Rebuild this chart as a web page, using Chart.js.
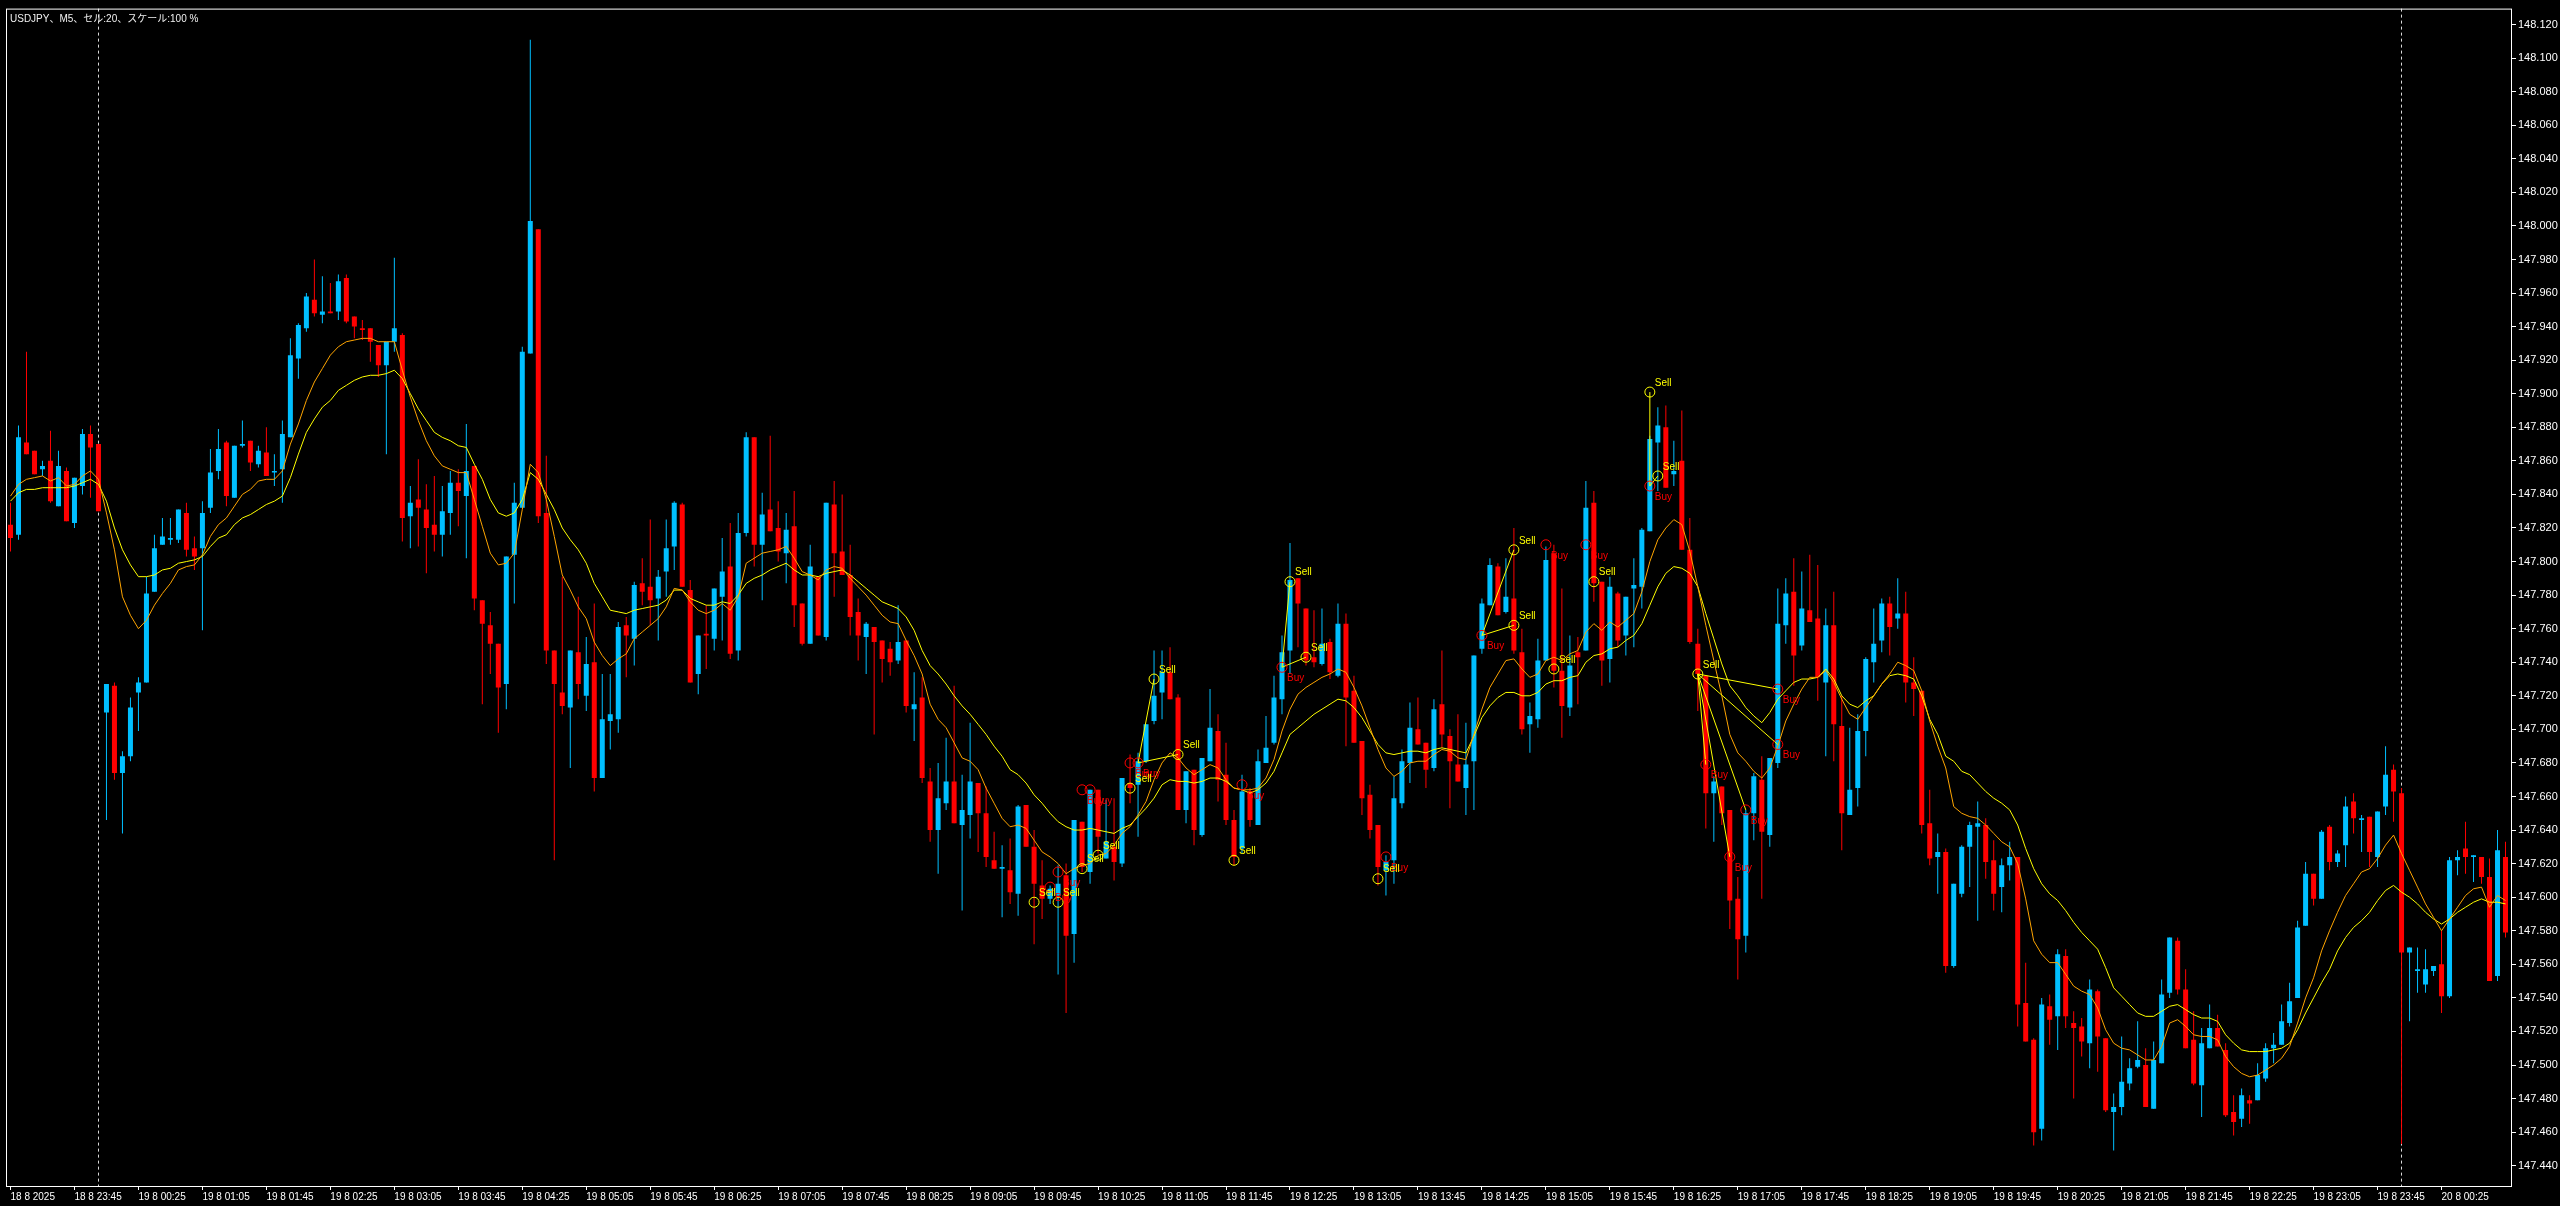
<!DOCTYPE html>
<html lang="ja">
<head>
<meta charset="UTF-8">
<title>USDJPY M5</title>
<style>
  html, body { margin: 0; padding: 0; background: #000; overflow: hidden; }
  canvas { display: block; }
</style>
</head>
<body>
<canvas id="chart" width="2560" height="1206"></canvas>
<script src="https://cdn.jsdelivr.net/npm/chart.js@4.4.1/dist/chart.umd.min.js"></script>
<script>
// USDJPY M5, bars from 18.8 23:05 to 20.8 01:05
const open = [
  147.822, 147.816, 147.871, 147.866, 147.855, 147.860, 147.833, 147.854, 147.823, 147.845,
  147.876, 147.870, 147.710, 147.726, 147.674, 147.684, 147.722, 147.728, 147.782, 147.810,
  147.813, 147.813, 147.829, 147.808, 147.808, 147.832, 147.854, 147.871, 147.838, 147.869,
  147.872, 147.858, 147.865, 147.853, 147.855, 147.874, 147.921, 147.939, 147.956, 147.947,
  147.949, 147.949, 147.969, 147.946, 147.939, 147.939, 147.929, 147.917, 147.931, 147.935,
  147.827, 147.837, 147.831, 147.822, 147.816, 147.829, 147.847, 147.839, 147.857, 147.777,
  147.762, 147.751, 147.727, 147.804, 147.832, 147.924, 147.998, 147.829, 147.747, 147.722,
  147.713, 147.746, 147.720, 147.740, 147.671, 147.705, 147.706, 147.762, 147.754, 147.787,
  147.785, 147.778, 147.794, 147.809, 147.834, 147.783, 147.733, 147.757, 147.754, 147.779,
  147.797, 147.747, 147.817, 147.874, 147.810, 147.831, 147.820, 147.805, 147.821, 147.775,
  147.751, 147.791, 147.755, 147.834, 147.806, 147.792, 147.770, 147.755, 147.761, 147.753,
  147.748, 147.741, 147.753, 147.712, 147.719, 147.669, 147.640, 147.656, 147.669, 147.643,
  147.649, 147.668, 147.650, 147.622, 147.617, 147.616, 147.602, 147.655, 147.630, 147.607,
  147.599, 147.601, 147.613, 147.578, 147.645, 147.615, 147.664, 147.623, 147.630, 147.620,
  147.668, 147.667, 147.681, 147.705, 147.722, 147.734, 147.719, 147.652, 147.676, 147.637,
  147.681, 147.699, 147.673, 147.646, 147.629, 147.663, 147.643, 147.680, 147.692, 147.718,
  147.747, 147.790, 147.772, 147.743, 147.739, 147.752, 147.732, 147.763, 147.723, 147.693,
  147.661, 147.643, 147.616, 147.622, 147.656, 147.680, 147.700, 147.692, 147.677, 147.715,
  147.696, 147.679, 147.665, 147.681, 147.748, 147.774, 147.797, 147.770, 147.778, 147.746,
  147.703, 147.706, 147.741, 147.805, 147.735, 147.713, 147.746, 147.747, 147.835, 147.788,
  147.742, 147.781, 147.756, 147.784, 147.785, 147.818, 147.871, 147.880, 147.852, 147.860,
  147.807, 147.751, 147.732, 147.662, 147.666, 147.652, 147.599, 147.577, 147.650, 147.670,
  147.637, 147.680, 147.762, 147.782, 147.750, 147.771, 147.766, 147.728, 147.762, 147.702,
  147.649, 147.665, 147.699, 147.740, 147.753, 147.775, 147.766, 147.769, 147.728, 147.723,
  147.644, 147.624, 147.627, 147.559, 147.602, 147.630, 147.642, 147.643, 147.622, 147.606,
  147.619, 147.624, 147.537, 147.515, 147.462, 147.535, 147.529, 147.565, 147.525, 147.523,
  147.513, 147.544, 147.516, 147.472, 147.475, 147.489, 147.499, 147.500, 147.474, 147.501,
  147.543, 147.574, 147.545, 147.515, 147.488, 147.510, 147.522, 147.509, 147.472, 147.468,
  147.479, 147.479, 147.492, 147.510, 147.512, 147.525, 147.540, 147.583, 147.614, 147.599,
  147.642, 147.621, 147.631, 147.657, 147.646, 147.648, 147.624, 147.654, 147.676, 147.662,
  147.567, 147.556, 147.548, 147.556, 147.560, 147.541, 147.622, 147.629, 147.624, 147.624,
  147.612, 147.553, 147.624
];
const high = [
  147.835, 147.881, 147.925, 147.866, 147.860, 147.878, 147.866, 147.856, 147.850, 147.879,
  147.881, 147.870, 147.727, 147.728, 147.687, 147.719, 147.731, 147.791, 147.816, 147.826,
  147.826, 147.831, 147.835, 147.815, 147.836, 147.867, 147.879, 147.872, 147.869, 147.884,
  147.872, 147.869, 147.880, 147.864, 147.884, 147.933, 147.942, 147.960, 147.980, 147.970,
  147.966, 147.971, 147.971, 147.946, 147.944, 147.939, 147.929, 147.931, 147.981, 147.936,
  147.845, 147.861, 147.846, 147.851, 147.845, 147.854, 147.855, 147.882, 147.857, 147.777,
  147.770, 147.751, 147.803, 147.847, 147.928, 148.111, 147.998, 147.863, 147.747, 147.791,
  147.747, 147.779, 147.755, 147.775, 147.733, 147.733, 147.764, 147.767, 147.788, 147.802,
  147.825, 147.795, 147.825, 147.836, 147.835, 147.789, 147.756, 147.774, 147.784, 147.814,
  147.823, 147.829, 147.877, 147.874, 147.841, 147.875, 147.836, 147.829, 147.842, 147.775,
  147.810, 147.791, 147.835, 147.848, 147.840, 147.810, 147.778, 147.764, 147.761, 147.753,
  147.752, 147.774, 147.753, 147.734, 147.731, 147.677, 147.680, 147.695, 147.726, 147.673,
  147.704, 147.668, 147.666, 147.639, 147.631, 147.635, 147.655, 147.655, 147.640, 147.622,
  147.607, 147.619, 147.620, 147.646, 147.645, 147.664, 147.664, 147.658, 147.659, 147.671,
  147.685, 147.686, 147.703, 147.747, 147.747, 147.749, 147.721, 147.675, 147.676, 147.683,
  147.724, 147.709, 147.692, 147.652, 147.673, 147.665, 147.688, 147.708, 147.732, 147.756,
  147.811, 147.790, 147.772, 147.771, 147.772, 147.754, 147.775, 147.769, 147.732, 147.693,
  147.667, 147.643, 147.625, 147.672, 147.688, 147.716, 147.719, 147.692, 147.718, 147.747,
  147.700, 147.709, 147.704, 147.744, 147.778, 147.802, 147.799, 147.802, 147.820, 147.760,
  147.716, 147.754, 147.809, 147.810, 147.784, 147.756, 147.755, 147.848, 147.842, 147.788,
  147.791, 147.782, 147.779, 147.802, 147.820, 147.875, 147.892, 147.893, 147.872, 147.890,
  147.826, 147.760, 147.732, 147.672, 147.666, 147.652, 147.612, 147.652, 147.674, 147.684,
  147.683, 147.784, 147.790, 147.802, 147.794, 147.804, 147.798, 147.772, 147.782, 147.720,
  147.701, 147.709, 147.743, 147.772, 147.778, 147.779, 147.790, 147.782, 147.743, 147.723,
  147.664, 147.638, 147.629, 147.608, 147.631, 147.645, 147.657, 147.647, 147.634, 147.623,
  147.633, 147.624, 147.561, 147.516, 147.540, 147.542, 147.569, 147.569, 147.532, 147.528,
  147.551, 147.545, 147.516, 147.483, 147.517, 147.504, 147.526, 147.510, 147.514, 147.551,
  147.576, 147.576, 147.557, 147.532, 147.522, 147.536, 147.530, 147.513, 147.482, 147.486,
  147.482, 147.501, 147.513, 147.519, 147.536, 147.549, 147.586, 147.621, 147.614, 147.640,
  147.643, 147.628, 147.660, 147.662, 147.649, 147.648, 147.651, 147.690, 147.679, 147.665,
  147.570, 147.570, 147.569, 147.559, 147.580, 147.624, 147.628, 147.645, 147.625, 147.624,
  147.623, 147.640, 147.633
];
const low = [
  147.806, 147.813, 147.864, 147.852, 147.851, 147.835, 147.833, 147.824, 147.820, 147.840,
  147.838, 147.830, 147.646, 147.670, 147.638, 147.681, 147.699, 147.728, 147.782, 147.810,
  147.810, 147.811, 147.803, 147.795, 147.759, 147.829, 147.849, 147.833, 147.838, 147.868,
  147.854, 147.856, 147.851, 147.845, 147.835, 147.874, 147.909, 147.937, 147.946, 147.942,
  147.948, 147.944, 147.942, 147.933, 147.932, 147.919, 147.910, 147.864, 147.925, 147.812,
  147.808, 147.809, 147.793, 147.806, 147.803, 147.816, 147.821, 147.802, 147.771, 147.715,
  147.733, 147.698, 147.712, 147.775, 147.832, 147.924, 147.823, 147.739, 147.622, 147.709,
  147.677, 147.718, 147.711, 147.663, 147.671, 147.688, 147.698, 147.731, 147.738, 147.774,
  147.762, 147.753, 147.779, 147.795, 147.785, 147.728, 147.721, 147.736, 147.747, 147.753,
  147.742, 147.741, 147.815, 147.797, 147.777, 147.818, 147.800, 147.787, 147.761, 147.750,
  147.751, 147.756, 147.753, 147.779, 147.792, 147.756, 147.741, 147.733, 147.697, 147.728,
  147.732, 147.739, 147.710, 147.693, 147.668, 147.633, 147.614, 147.652, 147.644, 147.592,
  147.635, 147.627, 147.618, 147.617, 147.588, 147.596, 147.589, 147.630, 147.572, 147.587,
  147.596, 147.554, 147.531, 147.561, 147.615, 147.608, 147.626, 147.623, 147.610, 147.618,
  147.656, 147.636, 147.680, 147.703, 147.706, 147.718, 147.652, 147.644, 147.631, 147.636,
  147.681, 147.657, 147.643, 147.619, 147.626, 147.642, 147.643, 147.680, 147.691, 147.709,
  147.733, 147.749, 147.738, 147.737, 147.738, 147.730, 147.731, 147.690, 147.692, 147.649,
  147.635, 147.607, 147.601, 147.608, 147.653, 147.668, 147.691, 147.665, 147.675, 147.689,
  147.653, 147.669, 147.649, 147.652, 147.745, 147.774, 147.768, 147.769, 147.745, 147.697,
  147.686, 147.701, 147.741, 147.725, 147.695, 147.708, 147.715, 147.747, 147.776, 147.726,
  147.728, 147.749, 147.744, 147.749, 147.772, 147.818, 147.842, 147.844, 147.845, 147.807,
  147.751, 147.711, 147.641, 147.633, 147.643, 147.581, 147.551, 147.567, 147.634, 147.599,
  147.630, 147.677, 147.751, 147.726, 147.747, 147.764, 147.717, 147.684, 147.681, 147.628,
  147.649, 147.654, 147.684, 147.728, 147.746, 147.744, 147.760, 147.716, 147.708, 147.638,
  147.619, 147.602, 147.555, 147.558, 147.600, 147.606, 147.586, 147.611, 147.592, 147.591,
  147.610, 147.523, 147.514, 147.452, 147.455, 147.512, 147.509, 147.522, 147.480, 147.505,
  147.498, 147.496, 147.472, 147.449, 147.470, 147.485, 147.498, 147.475, 147.474, 147.501,
  147.540, 147.542, 147.510, 147.488, 147.469, 147.510, 147.511, 147.469, 147.458, 147.463,
  147.465, 147.479, 147.490, 147.501, 147.512, 147.523, 147.540, 147.583, 147.595, 147.599,
  147.616, 147.618, 147.618, 147.638, 147.627, 147.618, 147.618, 147.649, 147.645, 147.453,
  147.526, 147.543, 147.543, 147.553, 147.531, 147.540, 147.613, 147.614, 147.609, 147.608,
  147.550, 147.550, 147.576
];
const close = [
  147.814, 147.874, 147.864, 147.852, 147.857, 147.836, 147.857, 147.824, 147.850, 147.876,
  147.868, 147.830, 147.727, 147.674, 147.684, 147.713, 147.728, 147.781, 147.808, 147.815,
  147.814, 147.831, 147.807, 147.803, 147.829, 147.853, 147.867, 147.839, 147.869, 147.870,
  147.859, 147.866, 147.851, 147.854, 147.876, 147.923, 147.941, 147.958, 147.948, 147.949,
  147.948, 147.967, 147.943, 147.940, 147.938, 147.931, 147.917, 147.931, 147.939, 147.826,
  147.835, 147.832, 147.820, 147.816, 147.830, 147.847, 147.842, 147.854, 147.778, 147.763,
  147.751, 147.725, 147.803, 147.835, 147.925, 148.003, 147.827, 147.747, 147.727, 147.714,
  147.747, 147.727, 147.739, 147.671, 147.706, 147.709, 147.761, 147.756, 147.786, 147.782,
  147.777, 147.791, 147.808, 147.835, 147.785, 147.728, 147.756, 147.756, 147.784, 147.794,
  147.745, 147.817, 147.874, 147.810, 147.828, 147.818, 147.806, 147.819, 147.774, 147.751,
  147.797, 147.756, 147.835, 147.805, 147.792, 147.767, 147.756, 147.763, 147.752, 147.742,
  147.740, 147.752, 147.714, 147.715, 147.671, 147.640, 147.659, 147.669, 147.644, 147.652,
  147.669, 147.650, 147.624, 147.617, 147.618, 147.603, 147.654, 147.630, 147.608, 147.599,
  147.605, 147.608, 147.577, 147.646, 147.618, 147.664, 147.636, 147.633, 147.621, 147.671,
  147.665, 147.681, 147.703, 147.720, 147.734, 147.718, 147.652, 147.675, 147.640, 147.683,
  147.701, 147.670, 147.646, 147.624, 147.663, 147.646, 147.681, 147.689, 147.719, 147.746,
  147.789, 147.775, 147.741, 147.740, 147.751, 147.734, 147.763, 147.719, 147.692, 147.659,
  147.640, 147.618, 147.621, 147.659, 147.681, 147.701, 147.691, 147.676, 147.712, 147.697,
  147.681, 147.669, 147.679, 147.744, 147.775, 147.798, 147.768, 147.779, 147.747, 147.700,
  147.708, 147.741, 147.801, 147.735, 147.714, 147.738, 147.743, 147.832, 147.787, 147.741,
  147.785, 147.753, 147.779, 147.786, 147.819, 147.873, 147.881, 147.844, 147.854, 147.807,
  147.752, 147.733, 147.662, 147.669, 147.650, 147.598, 147.575, 147.650, 147.672, 147.639,
  147.683, 147.763, 147.781, 147.744, 147.772, 147.764, 147.731, 147.762, 147.703, 147.650,
  147.664, 147.699, 147.742, 147.751, 147.775, 147.761, 147.769, 147.728, 147.724, 147.643,
  147.623, 147.627, 147.559, 147.608, 147.630, 147.643, 147.644, 147.621, 147.602, 147.619,
  147.624, 147.536, 147.514, 147.460, 147.536, 147.527, 147.566, 147.529, 147.522, 147.514,
  147.545, 147.517, 147.473, 147.475, 147.490, 147.498, 147.503, 147.475, 147.503, 147.542,
  147.576, 147.545, 147.510, 147.489, 147.513, 147.522, 147.511, 147.470, 147.466, 147.482,
  147.477, 147.494, 147.510, 147.512, 147.526, 147.538, 147.582, 147.614, 147.599, 147.639,
  147.621, 147.626, 147.654, 147.647, 147.647, 147.627, 147.651, 147.673, 147.663, 147.567,
  147.570, 147.557, 147.557, 147.559, 147.541, 147.622, 147.624, 147.624, 147.625, 147.612,
  147.550, 147.628, 147.579
];

// the two moving average lines (orange = fast, yellow = slow)
const maFast = [
  147.839, 147.846, 147.849, 147.850, 147.851, 147.848, 147.850, 147.845, 147.846, 147.851,
  147.854, 147.849, 147.829, 147.807, 147.779, 147.768, 147.760, 147.765, 147.774, 147.781,
  147.787, 147.795, 147.797, 147.798, 147.804, 147.815, 147.822, 147.826, 147.833, 147.840,
  147.843, 147.848, 147.849, 147.849, 147.854, 147.870, 147.882, 147.896, 147.907, 147.915,
  147.923, 147.928, 147.931, 147.932, 147.933, 147.933, 147.931, 147.931, 147.931, 147.914,
  147.898, 147.884, 147.872, 147.863, 147.857, 147.855, 147.853, 147.853, 147.837, 147.821,
  147.805, 147.798, 147.799, 147.805, 147.831, 147.858, 147.853, 147.837, 147.815, 147.792,
  147.783, 147.773, 147.766, 147.752, 147.744, 147.738, 147.742, 147.745, 147.754, 147.758,
  147.762, 147.766, 147.773, 147.784, 147.783, 147.776, 147.771, 147.769, 147.771, 147.775,
  147.771, 147.779, 147.799, 147.802, 147.805, 147.806, 147.807, 147.809, 147.802, 147.794,
  147.792, 147.789, 147.795, 147.797, 147.796, 147.790, 147.785, 147.780, 147.774, 147.768,
  147.764, 147.763, 147.753, 147.744, 147.733, 147.715, 147.706, 147.701, 147.692, 147.683,
  147.681, 147.676, 147.665, 147.656, 147.647, 147.642, 147.643, 147.641, 147.634, 147.627,
  147.624, 147.620, 147.614, 147.617, 147.619, 147.620, 147.625, 147.626, 147.631, 147.638,
  147.642, 147.649, 147.657, 147.670, 147.680, 147.686, 147.683, 147.677, 147.673, 147.676,
  147.679, 147.677, 147.670, 147.665, 147.664, 147.664, 147.665, 147.671, 147.682, 147.699,
  147.712, 147.721, 147.725, 147.728, 147.731, 147.733, 147.736, 147.734, 147.725, 147.714,
  147.701, 147.688, 147.677, 147.672, 147.675, 147.680, 147.681, 147.681, 147.685, 147.688,
  147.687, 147.683, 147.682, 147.697, 147.712, 147.725, 147.733, 147.741, 147.742, 147.736,
  147.731, 147.733, 147.741, 147.743, 147.741, 147.745, 147.747, 147.758, 147.763, 147.759,
  147.764, 147.761, 147.765, 147.769, 147.782, 147.800, 147.813, 147.820, 147.825, 147.822,
  147.806, 147.785, 147.762, 147.741, 147.720, 147.697, 147.686, 147.681, 147.675, 147.671,
  147.677, 147.690, 147.705, 147.715, 147.724, 147.731, 147.731, 147.735, 147.728, 147.718,
  147.709, 147.706, 147.713, 147.720, 147.727, 147.733, 147.740, 147.738, 147.735, 147.723,
  147.705, 147.690, 147.677, 147.654, 147.650, 147.648, 147.647, 147.643, 147.638, 147.633,
  147.630, 147.620, 147.599, 147.574, 147.566, 147.561, 147.561, 147.554, 147.547, 147.544,
  147.542, 147.534, 147.521, 147.513, 147.510, 147.509, 147.506, 147.503, 147.503, 147.511,
  147.525, 147.527, 147.523, 147.518, 147.517, 147.517, 147.515, 147.505, 147.499, 147.495,
  147.493, 147.494, 147.497, 147.500, 147.504, 147.511, 147.525, 147.540, 147.552, 147.568,
  147.580, 147.591, 147.601, 147.608, 147.615, 147.617, 147.623, 147.631, 147.637, 147.626,
  147.616, 147.606, 147.596, 147.588, 147.580, 147.587, 147.594, 147.601, 147.605, 147.606,
  147.594, 147.601, 147.598
];
const maSlow = [
  147.836, 147.841, 147.843, 147.843, 147.844, 147.844, 147.844, 147.844, 147.845, 147.847,
  147.849, 147.846, 147.836, 147.820, 147.807, 147.798, 147.791, 147.791, 147.792, 147.795,
  147.796, 147.799, 147.800, 147.801, 147.803, 147.809, 147.814, 147.816, 147.822, 147.826,
  147.828, 147.831, 147.834, 147.836, 147.839, 147.850, 147.864, 147.877, 147.885, 147.892,
  147.896, 147.902, 147.905, 147.908, 147.910, 147.911, 147.911, 147.912, 147.914, 147.909,
  147.900, 147.891, 147.884, 147.877, 147.874, 147.872, 147.869, 147.868, 147.858, 147.849,
  147.837, 147.829, 147.827, 147.829, 147.837, 147.853, 147.849, 147.840, 147.831, 147.820,
  147.813, 147.807, 147.799, 147.787, 147.779, 147.771, 147.770, 147.769, 147.771, 147.772,
  147.773, 147.774, 147.777, 147.783, 147.783, 147.778, 147.776, 147.774, 147.774, 147.776,
  147.775, 147.780, 147.787, 147.790, 147.792, 147.795, 147.797, 147.799, 147.795, 147.792,
  147.792, 147.791, 147.793, 147.794, 147.795, 147.792, 147.788, 147.784, 147.780, 147.776,
  147.774, 147.772, 147.767, 147.759, 147.747, 147.738, 147.733, 147.727, 147.720, 147.714,
  147.709, 147.703, 147.697, 147.690, 147.684, 147.676, 147.673, 147.668, 147.661, 147.656,
  147.650, 147.645, 147.642, 147.640, 147.640, 147.641, 147.640, 147.639, 147.638, 147.641,
  147.643, 147.648, 147.653, 147.659, 147.667, 147.670, 147.669, 147.669, 147.668, 147.669,
  147.671, 147.671, 147.669, 147.665, 147.664, 147.662, 147.664, 147.668, 147.675, 147.686,
  147.697, 147.701, 147.705, 147.709, 147.712, 147.715, 147.718, 147.717, 147.713, 147.707,
  147.699, 147.691, 147.686, 147.685, 147.686, 147.687, 147.687, 147.686, 147.688, 147.689,
  147.688, 147.687, 147.686, 147.696, 147.707, 147.714, 147.719, 147.722, 147.722, 147.720,
  147.720, 147.722, 147.727, 147.729, 147.729, 147.731, 147.732, 147.740, 147.744, 147.745,
  147.748, 147.749, 147.753, 147.756, 147.763, 147.774, 147.785, 147.793, 147.797, 147.796,
  147.793, 147.785, 147.769, 147.754, 147.739, 147.726, 147.720, 147.713, 147.708, 147.704,
  147.710, 147.718, 147.723, 147.728, 147.730, 147.730, 147.731, 147.736, 147.730, 147.720,
  147.715, 147.713, 147.717, 147.720, 147.727, 147.732, 147.733, 147.732, 147.730, 147.720,
  147.706, 147.697, 147.684, 147.681, 147.675, 147.673, 147.668, 147.663, 147.659, 147.656,
  147.652, 147.643, 147.629, 147.617, 147.608, 147.602, 147.598, 147.592, 147.585, 147.579,
  147.574, 147.569, 147.558, 147.546, 147.541, 147.536, 147.531, 147.529, 147.529, 147.532,
  147.535, 147.536, 147.533, 147.530, 147.528, 147.528, 147.526, 147.518, 147.513, 147.509,
  147.508, 147.508, 147.508, 147.509, 147.510, 147.513, 147.521, 147.531, 147.540, 147.549,
  147.557, 147.568, 147.576, 147.582, 147.586, 147.591, 147.598, 147.604, 147.607, 147.603,
  147.600, 147.596, 147.591, 147.587, 147.584, 147.587, 147.591, 147.594, 147.597, 147.599,
  147.597, 147.597, 147.596
];

// Sell / Buy marks (bar index, price)
const sellBars   = [128, 131, 134, 136, 140, 143, 146, 153, 160, 162, 171, 188, 188, 193, 198, 205, 206, 211];
const sellPrices = [147.597, 147.597, 147.617, 147.625, 147.665, 147.730, 147.685, 147.622, 147.788, 147.743,
                    147.611, 147.807, 147.762, 147.736, 147.788, 147.901, 147.851, 147.733];
const buyBars    = [130, 131, 134, 135, 140, 141, 154, 159, 172, 184, 192, 197, 205, 212, 215, 217, 221, 221];
const buyPrices  = [147.606, 147.615, 147.664, 147.664, 147.680, 147.680, 147.667, 147.737, 147.624, 147.756,
                    147.810, 147.810, 147.845, 147.679, 147.624, 147.652, 147.724, 147.691];
// trade lines: [fromBar, fromPrice, toBar, toPrice]
const tradeLines = [
  [141, 147.680, 143, 147.730], [141, 147.680, 146, 147.685],
  [159, 147.737, 160, 147.788], [159, 147.737, 162, 147.743],
  [184, 147.756, 188, 147.807], [184, 147.756, 188, 147.762],
  [205, 147.845, 205, 147.901], [205, 147.845, 206, 147.851],
  [211, 147.733, 212, 147.679], [211, 147.733, 215, 147.624], [211, 147.733, 217, 147.652],
  [211, 147.733, 221, 147.724], [211, 147.733, 221, 147.691]
];

// axis ticks
const xTickBars = [0, 8, 16, 24, 32, 40, 48, 56, 64, 72, 80, 88, 96, 104, 112, 120, 128, 136, 144, 152,
                   160, 168, 176, 184, 192, 200, 208, 216, 224, 232, 240, 248, 256, 264, 272, 280, 288, 296, 304];
const xTickLabels = ['18 8 2025', '18 8 23:45', '19 8 00:25', '19 8 01:05', '19 8 01:45', '19 8 02:25', '19 8 03:05',
  '19 8 03:45', '19 8 04:25', '19 8 05:05', '19 8 05:45', '19 8 06:25', '19 8 07:05', '19 8 07:45', '19 8 08:25',
  '19 8 09:05', '19 8 09:45', '19 8 10:25', '19 8 11:05', '19 8 11:45', '19 8 12:25', '19 8 13:05', '19 8 13:45',
  '19 8 14:25', '19 8 15:05', '19 8 15:45', '19 8 16:25', '19 8 17:05', '19 8 17:45', '19 8 18:25', '19 8 19:05',
  '19 8 19:45', '19 8 20:25', '19 8 21:05', '19 8 21:45', '19 8 22:25', '19 8 23:05', '19 8 23:45', '20 8 00:25'];
const yTickValues = [147.44, 147.46, 147.48, 147.50, 147.52, 147.54, 147.56, 147.58, 147.60, 147.62, 147.64,
  147.66, 147.68, 147.70, 147.72, 147.74, 147.76, 147.78, 147.80, 147.82, 147.84, 147.86, 147.88, 147.90,
  147.92, 147.94, 147.96, 147.98, 148.00, 148.02, 148.04, 148.06, 148.08, 148.10, 148.12];
const separatorBars = [11, 299];   // day breaks
const chartTitle = 'USDJPY、M5、セル:20、スケール:100 %';

// ---- styling ----
const BULL = '#00BFFF';
const BEAR = '#FF0000';
const MARK_YELLOW = '#FFFF00';
const MARK_RED = '#FF0000';
const AXIS_TEXT = '#FFFFFF';

const idx = open.map((_, i) => i);
const candleColors = idx.map(i => close[i] >= open[i] ? BULL : BEAR);

const datasets = [
  {
    label: 'wick', type: 'bar', order: 6,
    data: idx.map(i => ({ x: i, y: [low[i], high[i]] })),
    backgroundColor: candleColors, barThickness: 1, grouped: false, inflateAmount: 0, borderWidth: 0
  },
  {
    label: 'body', type: 'bar', order: 5,
    data: idx.map(i => ({ x: i, y: [open[i], close[i]] })),
    backgroundColor: candleColors, barThickness: 5, grouped: false, inflateAmount: 0, borderWidth: 0,
    minBarLength: 1
  },
  {
    label: 'slow', type: 'line', order: 4,
    data: maSlow.map((v, i) => ({ x: i, y: v })),
    borderColor: '#FFFF00', borderWidth: 1, pointRadius: 0, tension: 0
  },
  {
    label: 'fast', type: 'line', order: 3,
    data: maFast.map((v, i) => ({ x: i, y: v })),
    borderColor: '#FFA500', borderWidth: 1, pointRadius: 0, tension: 0
  }
];

tradeLines.forEach(t => {
  datasets.push({
    label: 'trade', type: 'line', order: 2,
    data: [{ x: t[0], y: t[1] }, { x: t[2], y: t[3] }],
    borderColor: MARK_YELLOW, borderWidth: 1, pointRadius: 0, tension: 0
  });
});

datasets.push({
  label: 'Buy', type: 'line', order: 1, showLine: false,
  data: buyBars.map((b, i) => ({ x: b, y: buyPrices[i] })),
  pointStyle: 'circle', pointRadius: 5, pointBorderWidth: 1,
  pointBorderColor: MARK_RED, pointBackgroundColor: 'rgba(0,0,0,0)',
  markText: 'Buy', markColor: MARK_RED, markDy: 11
});
datasets.push({
  label: 'Sell', type: 'line', order: 0, showLine: false,
  data: sellBars.map((b, i) => ({ x: b, y: sellPrices[i] })),
  pointStyle: 'circle', pointRadius: 5, pointBorderWidth: 1,
  pointBorderColor: MARK_YELLOW, pointBackgroundColor: 'rgba(0,0,0,0)',
  markText: 'Sell', markColor: MARK_YELLOW, markDy: -9
});

// black background, separators behind the bars
const backdrop = {
  id: 'backdrop',
  beforeDraw(chart) {
    const ctx = chart.ctx;
    ctx.save();
    ctx.fillStyle = '#000';
    ctx.fillRect(0, 0, chart.width, chart.height);
    ctx.restore();
  },
  beforeDatasetsDraw(chart) {
    const { ctx, chartArea, scales } = chart;
    ctx.save();
    ctx.strokeStyle = '#D8D8D8';
    ctx.lineWidth = 1;
    ctx.setLineDash([3, 3]);
    separatorBars.forEach(b => {
      const x = Math.floor(scales.x.getPixelForValue(b)) + 0.5;
      ctx.beginPath();
      ctx.moveTo(x, chartArea.top);
      ctx.lineTo(x, chartArea.bottom);
      ctx.stroke();
    });
    ctx.restore();
  }
};

// frame, Sell/Buy texts and the title
const overlay = {
  id: 'overlay',
  afterDatasetsDraw(chart) {
    const { ctx, chartArea } = chart;
    ctx.save();
    ctx.font = '10px "Liberation Sans", Arial, sans-serif';
    ctx.textBaseline = 'middle';
    ctx.textAlign = 'left';
    chart.data.datasets.forEach((ds, di) => {
      if (!ds.markText) return;
      ctx.fillStyle = ds.markColor;
      chart.getDatasetMeta(di).data.forEach(pt => {
        ctx.fillText(ds.markText, pt.x + 5, pt.y + ds.markDy);
      });
    });
    ctx.strokeStyle = '#FFFFFF';
    ctx.lineWidth = 1;
    ctx.strokeRect(chartArea.left + 0.5, chartArea.top + 0.5,
      chartArea.right - chartArea.left - 1, chartArea.bottom - chartArea.top);
    ctx.fillStyle = '#F0F0F0';
    ctx.font = '10px "Liberation Sans", "Noto Sans CJK JP", sans-serif';
    ctx.fillText(chartTitle, chartArea.left + 4, chartArea.top + 11);
    ctx.restore();
  }
};

new Chart(document.getElementById('chart'), {
  type: 'bar',
  data: { datasets: datasets },
  options: {
    responsive: false,
    devicePixelRatio: 1,
    animation: false,
    events: [],
    layout: { padding: { left: 5, top: 5, right: 0, bottom: 0 } },
    plugins: { legend: { display: false }, tooltip: { enabled: false }, title: { display: false } },
    scales: {
      x: {
        type: 'linear',
        min: -0.5625,
        max: 312.8125,
        offset: false,
        grid: { display: true, offset: false, drawOnChartArea: false, drawTicks: true, tickLength: 4, color: '#FFFFFF' },
        border: { display: false },
        afterBuildTicks: s => { s.ticks = xTickBars.map(v => ({ value: v })); },
        afterFit: s => { s.height = 20; },
        ticks: {
          autoSkip: false, maxRotation: 0, minRotation: 0, align: 'start', padding: 1,
          color: AXIS_TEXT, font: { family: '"Liberation Sans", Arial, sans-serif', size: 10 },
          callback: (v, i) => xTickLabels[i]
        }
      },
      y: {
        type: 'linear',
        position: 'right',
        min: 147.4279,
        max: 148.1295,
        grid: { display: true, drawOnChartArea: false, drawTicks: true, tickLength: 4, color: '#FFFFFF' },
        border: { display: false },
        afterBuildTicks: s => { s.ticks = yTickValues.map(v => ({ value: v })); },
        afterFit: s => { s.width = 48; },
        ticks: {
          autoSkip: false, padding: 2,
          color: AXIS_TEXT, font: { family: '"Liberation Sans", Arial, sans-serif', size: 11 },
          callback: v => Number(v).toFixed(3)
        }
      }
    }
  },
  plugins: [backdrop, overlay]
});
</script>
</body>
</html>
